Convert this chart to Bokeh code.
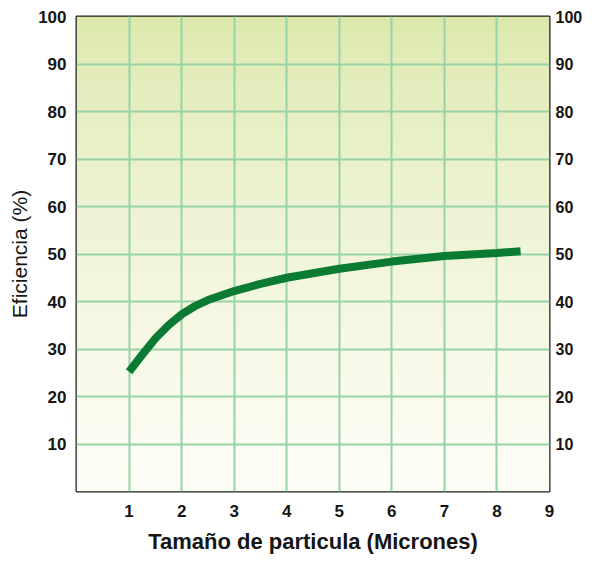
import numpy as np
from bokeh.plotting import figure
from bokeh.models import Range1d, LinearAxis, FixedTicker
from bokeh.embed import file_html
from bokeh.resources import INLINE

# ---- data ----
x_ticks = [1, 2, 3, 4, 5, 6, 7, 8, 9]
y_ticks = [10, 20, 30, 40, 50, 60, 70, 80, 90, 100]
particle_size = [1.0, 1.25, 1.5, 1.75, 2.0, 2.25, 2.5, 3.0, 3.5, 4.0, 5.0, 6.0, 7.0, 8.0, 8.45]
efficiency = [25.2, 28.8, 32.2, 35.0, 37.3, 39.0, 40.3, 42.2, 43.7, 45.0, 46.9, 48.4, 49.6, 50.2, 50.6]
x_label = "Tamaño de particula (Micrones)"
y_label = "Eficiencia (%)"

FONT = "Liberation Sans, Arial, sans-serif"

p = figure(frame_width=473, frame_height=475,
           x_range=Range1d(0, 9), y_range=Range1d(0, 100),
           output_backend="svg", toolbar_location=None,
           min_border_left=76, min_border_right=4,
           min_border_top=16, min_border_bottom=4)

# gradient background (light green at top -> near white at bottom)
n = 480
top = np.array([0xdb, 0xe8, 0xa9], dtype=float)
bot = np.array([0xfe, 0xfe, 0xf8], dtype=float)
img = np.zeros((n, 1), dtype=np.uint32)
view = img.view(dtype=np.uint8).reshape((n, 1, 4))
for i in range(n):
    d = 1.0 - i / (n - 1)          # distance from top (row 0 is bottom)
    c = top + (bot - top) * d ** 0.7
    view[i, 0, 0] = int(c[0])
    view[i, 0, 1] = int(c[1])
    view[i, 0, 2] = int(c[2])
    view[i, 0, 3] = 255
bg = p.image_rgba(image=[img], x=0, y=0, dw=9, dh=100)
bg.level = "image"

# grids
p.xgrid.ticker = FixedTicker(ticks=x_ticks[:-1])
p.ygrid.ticker = FixedTicker(ticks=y_ticks[:-1])
for g in (p.xgrid, p.ygrid):
    g.grid_line_color = "#97d3a6"
    g.grid_line_width = 2
    g.grid_line_alpha = 1.0

# curve
p.line(particle_size, efficiency, line_width=8, line_color="#0b7b33",
       line_cap="butt", line_join="round")

# frame
p.outline_line_color = "#1c1c1c"
p.outline_line_width = 2
p.background_fill_color = "#ffffff"
p.border_fill_color = "#ffffff"

# axes
right = LinearAxis()
p.add_layout(right, "right")

def style_axis(ax, ticks, size):
    ax.ticker = FixedTicker(ticks=ticks)
    ax.axis_line_color = None
    ax.major_tick_line_color = None
    ax.minor_tick_line_color = None
    ax.major_tick_out = 0
    ax.major_tick_in = 0
    ax.minor_tick_out = 0
    ax.minor_tick_in = 0
    ax.major_label_text_font = FONT
    ax.major_label_text_font_style = "bold"
    ax.major_label_text_font_size = size
    ax.major_label_text_color = "#151515"

style_axis(p.xaxis[0], x_ticks, "17px")
style_axis(p.yaxis[0], y_ticks, "17px")
style_axis(right, y_ticks, "16px")

p.yaxis[0].major_label_standoff = 10
right.major_label_standoff = 6
p.xaxis[0].major_label_standoff = 13

p.xaxis[0].axis_label = x_label
p.xaxis[0].axis_label_text_font = FONT
p.xaxis[0].axis_label_text_font_style = "bold"
p.xaxis[0].axis_label_text_font_size = "22px"
p.xaxis[0].axis_label_text_color = "#151515"
p.xaxis[0].axis_label_standoff = 9

p.yaxis[0].axis_label = y_label
p.yaxis[0].axis_label_text_font = FONT
p.yaxis[0].axis_label_text_font_style = "normal"
p.yaxis[0].axis_label_text_font_size = "21px"
p.yaxis[0].axis_label_text_color = "#151515"
p.yaxis[0].axis_label_standoff = 4

open("out.html", "w").write(file_html(p, INLINE))
